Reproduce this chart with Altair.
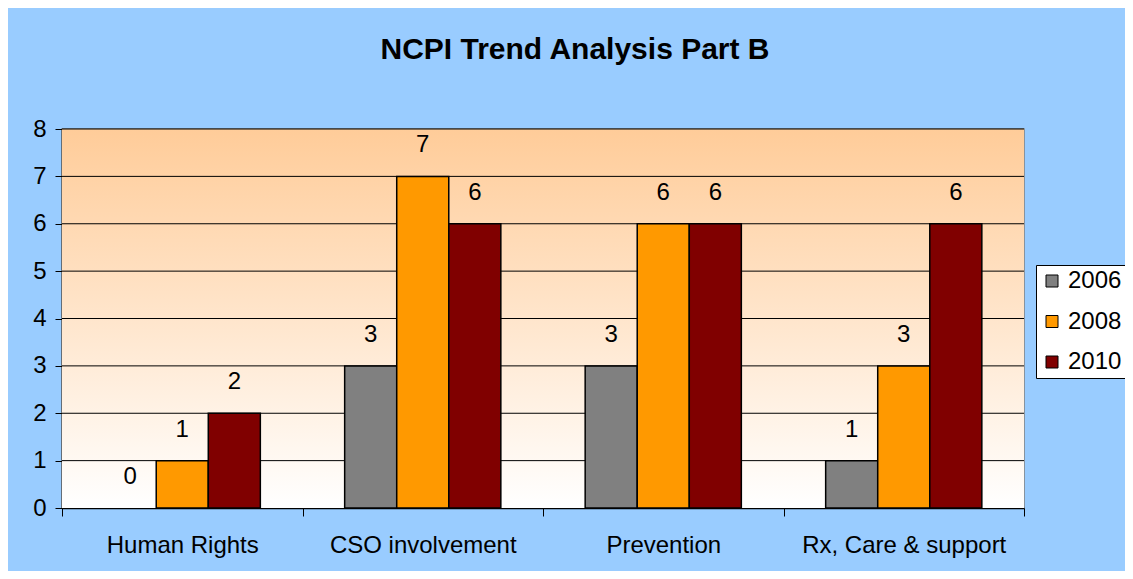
import altair as alt
import pandas as pd

categories = ["Human Rights", "CSO involvement", "Prevention", "Rx, Care & support"]
years = ["2006", "2008", "2010"]
values_2006 = [0, 3, 3, 1]
values_2008 = [1, 7, 6, 3]
values_2010 = [2, 6, 6, 6]
y_ticks = [0, 1, 2, 3, 4, 5, 6, 7, 8]
colors = ["#808080", "#FF9900", "#800000"]

rows = []
for yr, vals in zip(years, [values_2006, values_2008, values_2010]):
    for c, v in zip(categories, vals):
        rows.append({"category": c, "year": yr, "value": v})
df = pd.DataFrame(rows)

FONT = "Liberation Sans"
FS = 24
yscale = alt.Scale(domain=[y_ticks[0], y_ticks[-1]], nice=False)
yaxis = alt.Axis(
    values=y_ticks, grid=False, title=None, labelFontSize=FS,
    labelFont=FONT, labelColor="black", tickSize=7, tickColor="black",
    domainColor="black", domainWidth=1.5, labelPadding=9,
)

bg = alt.Chart(pd.DataFrame({"lo": [y_ticks[0]], "hi": [y_ticks[-1]]})).mark_rect(
    fill=alt.LinearGradient(
        gradient="linear",
        stops=[alt.GradientStop(color="#FFCC99", offset=0),
               alt.GradientStop(color="#FFFFFF", offset=1)],
        x1=0, x2=0, y1=0, y2=1,
    ),
).encode(
    y=alt.Y("lo:Q", scale=yscale, axis=yaxis),
    y2="hi:Q",
)

grid = alt.Chart(pd.DataFrame({"t": y_ticks[1:]})).mark_rule(
    color="black", strokeWidth=1
).encode(y=alt.Y("t:Q", scale=yscale))

xenc = alt.X(
    "category:N", sort=categories,
    scale=alt.Scale(paddingInner=0, paddingOuter=0),
    axis=alt.Axis(
        title=None, labelAngle=0, labelFontSize=FS, labelFont=FONT,
        labelColor="black", tickBand="extent", tickSize=8, tickColor="black",
        domainColor="black", domainWidth=1.5, labelPadding=17, labelLimit=400,
    ),
)
xoff = alt.XOffset("year:N", sort=years, scale=alt.Scale(paddingOuter=0.81, paddingInner=0))

bars = alt.Chart(df).transform_filter("datum.value > 0").mark_bar(
    stroke="black", strokeWidth=1.5
).encode(
    x=xenc,
    xOffset=xoff,
    y=alt.Y("value:Q", scale=yscale),
    color=alt.Color(
        "year:N", sort=years,
        scale=alt.Scale(domain=years, range=colors),
        legend=alt.Legend(
            title=None, orient="none", legendX=974, legendY=136,
            fillColor="white", strokeColor="black", padding=4,
            labelFontSize=FS, labelFont=FONT, labelColor="black",
            symbolType="square", symbolSize=144, symbolStrokeColor="black",
            symbolStrokeWidth=1, rowPadding=16.5, labelOffset=4, cornerRadius=0,
        ),
    ),
)

labels = alt.Chart(df).mark_text(
    baseline="bottom", dy=-19, fontSize=FS, font=FONT, color="black"
).encode(
    x=alt.X("category:N", sort=categories),
    xOffset=xoff,
    y=alt.Y("value:Q", scale=yscale),
    text="value:Q",
)

chart = alt.layer(bg, grid, bars, labels).properties(
    width=962,
    height=379,
    autosize="none",
    padding={"left": 54, "top": 121, "right": 101, "bottom": 63},
    background="#99CCFF",
    title=alt.Title(
        "NCPI Trend Analysis Part B", fontSize=30, font=FONT,
        fontWeight="bold", color="black", anchor="middle", dx=32, offset=52,
    ),
).configure_view(stroke="#808080", strokeWidth=1.5)

chart.save("out.html", embed_options={"renderer": "svg", "actions": False})
